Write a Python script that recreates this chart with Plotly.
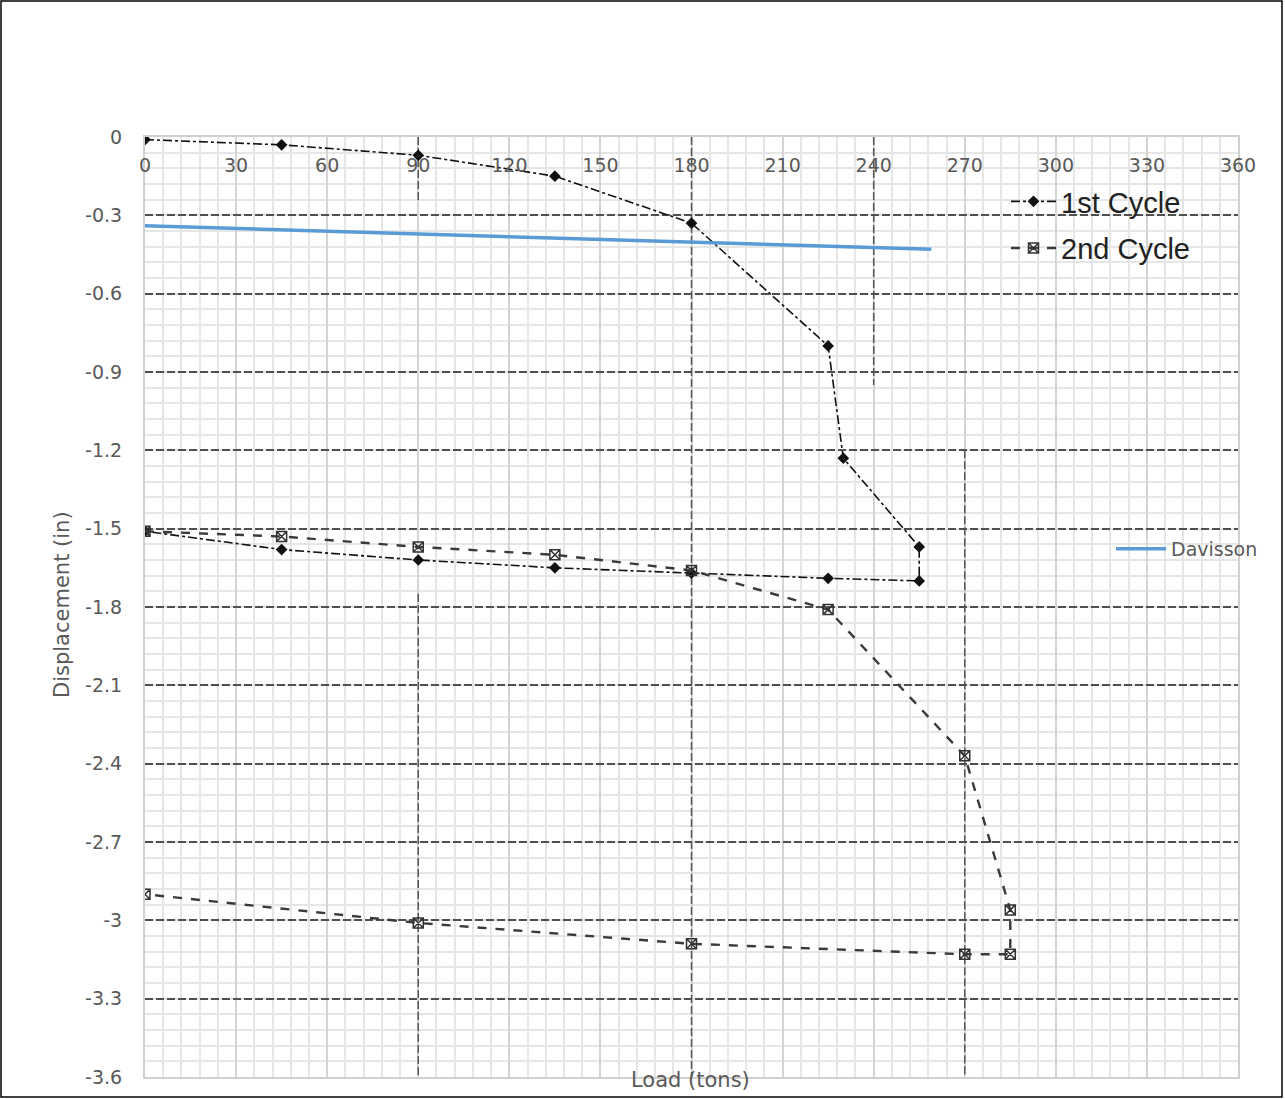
import plotly.graph_objects as go

# ---------------- data ----------------
load_1st = [0, 45, 90, 135, 180, 225, 230, 255, 255, 225, 180, 135, 90, 45, 0]
disp_1st = [-0.01, -0.03, -0.07, -0.15, -0.33, -0.80, -1.23, -1.57, -1.70, -1.69, -1.67, -1.65, -1.62, -1.58, -1.51]

load_2nd = [0, 45, 90, 135, 180, 225, 270, 285, 285, 270, 180, 90, 0]
disp_2nd = [-1.51, -1.53, -1.57, -1.60, -1.66, -1.81, -2.37, -2.96, -3.13, -3.13, -3.09, -3.01, -2.90]

load_dav = [0, 259]
disp_dav = [-0.34, -0.43]

x_ticks = [0, 30, 60, 90, 120, 150, 180, 210, 240, 270, 300, 330, 360]
y_ticks = [0, -0.3, -0.6, -0.9, -1.2, -1.5, -1.8, -2.1, -2.4, -2.7, -3.0, -3.3, -3.6]
y_tick_text = ["0", "-0.3", "-0.6", "-0.9", "-1.2", "-1.5", "-1.8", "-2.1", "-2.4", "-2.7", "-3", "-3.3", "-3.6"]

# ---------------- layout geometry ----------------
W, H = 1285, 1099
L, R, T, B = 145, 47, 137, 22
PW, PH = W - L - R, H - T - B

FONT = "'DejaVu Sans', sans-serif"
GRAY = "#595959"

fig = go.Figure()

fig.add_trace(go.Scatter(
    x=load_1st, y=disp_1st, mode="lines+markers", name="1st Cycle",
    legend="legend", legendgroup="a",
    line=dict(color="#111111", width=1.6, dash="dashdot"),
    marker=dict(symbol="diamond", size=9, color="#111111"),
))
fig.add_trace(go.Scatter(
    x=load_2nd, y=disp_2nd, mode="lines+markers", name="2nd Cycle",
    legend="legend", legendgroup="b",
    line=dict(color="#3a3a3a", width=2.4, dash="dash"),
    marker=dict(symbol="square-x-open", size=10, color="#333333", line=dict(width=1.5)),
))
fig.add_trace(go.Scatter(
    x=load_dav, y=disp_dav, mode="lines", name="Davisson",
    legend="legend2", xaxis="x2",
    line=dict(color="#5b9bd5", width=3.5),
))

# dark scanned-looking vertical dashed lines
for x0, y0, y1 in [(180, 0, -3.6), (270, -1.2, -3.6), (90, 0, -0.25), (90, -1.75, -3.6), (240, 0, -0.95)]:
    fig.add_shape(type="line", xref="x", yref="y", x0=x0, x1=x0, y0=y0, y1=y1,
                  line=dict(color="#555555", width=1.5, dash="8px,3px"), layer="between")

# outer frame
fig.add_shape(type="rect", xref="paper", yref="paper",
              x0=(1 - L) / PW, x1=(W - 3 - L) / PW,
              y0=1 - (H - 2 - T) / PH, y1=1 + (T - 1) / PH,
              line=dict(color="#000000", width=1.5), fillcolor="rgba(0,0,0,0)")

fig.update_layout(
    width=W, height=H,
    margin=dict(l=L, r=R, t=T, b=B, autoexpand=False),
    paper_bgcolor="white", plot_bgcolor="white",
    font=dict(family=FONT, size=19, color=GRAY),
    showlegend=True,
    legend=dict(
        x=(1006 - L) / PW, y=1 - (176 - T) / PH, xanchor="left", yanchor="top",
        font=dict(family="'Liberation Sans', Arial, sans-serif", size=29, color="#222222"),
        bgcolor="rgba(0,0,0,0)", traceorder="grouped", tracegroupgap=6,
        itemwidth=45,
    ),
    legend2=dict(
        x=(1111 - L) / PW, y=1 - (549 - T) / PH, xanchor="left", yanchor="middle",
        font=dict(family=FONT, size=19, color=GRAY),
        bgcolor="rgba(0,0,0,0)", itemwidth=50,
    ),
    xaxis=dict(
        range=[0, 360], side="top", tickvals=x_ticks, ticks="", showticklabels=False,
        showgrid=True, gridcolor="#d4d4d4", gridwidth=1.5,
        minor=dict(dtick=6, showgrid=True, gridcolor="#e6e6e6", gridwidth=1.5, griddash="solid"),
        showline=True, mirror=True, linecolor="#d0d0d0", linewidth=2,
        zeroline=False,
    ),
    xaxis2=dict(
        range=[0, 360], overlaying="x", anchor="free", position=1 - (152 - T) / PH,
        side="bottom", tickvals=x_ticks, ticks="", showgrid=False, showline=False,
        zeroline=False, tickfont=dict(size=19, color=GRAY),
    ),
    yaxis=dict(
        range=[-3.6, 0], tickvals=y_ticks, ticktext=y_tick_text, ticks="",
        ticklabelstandoff=17,
        showgrid=True, gridcolor="#4f4f4f", gridwidth=1.6, griddash="8px,3px",
        minor=dict(dtick=0.06, showgrid=True, gridcolor="#e6e6e6", gridwidth=1.5, griddash="solid"),
        showline=True, mirror=True, linecolor="#d0d0d0", linewidth=2,
        zeroline=False, tickfont=dict(size=19, color=GRAY),
    ),
    annotations=[
        dict(text="Displacement (in)", xref="paper", yref="paper",
             x=(62 - L) / PW, y=1 - (605 - T) / PH, xanchor="center", yanchor="middle",
             textangle=-90, showarrow=False, font=dict(size=21, color=GRAY)),
        dict(text="Load (tons)", xref="paper", yref="paper",
             x=(690 - L) / PW, y=1 - (1080 - T) / PH, xanchor="center", yanchor="middle",
             showarrow=False, font=dict(size=21, color=GRAY)),
    ],
)

fig.write_html("out.html", config={"displayModeBar": False},
               post_script="document.body.style.margin='0';")
